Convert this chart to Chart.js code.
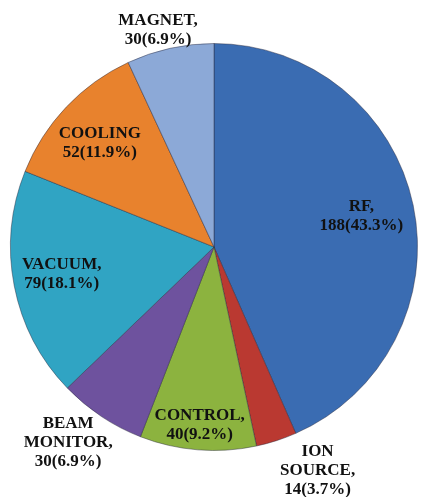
<!DOCTYPE html>
<html>
<head>
<meta charset="utf-8">
<script src="https://cdn.jsdelivr.net/npm/chart.js@4/dist/chart.umd.min.js"></script>
<style>
  html, body { margin: 0; padding: 0; background: #ffffff; }
  #wrap { width: 421px; height: 497px; }
</style>
</head>
<body>
<div id="wrap"><canvas id="pie" width="421" height="497"></canvas></div>
<script>
// data, clockwise from 12 o'clock
const categories = [["RF,"], ["ION", "SOURCE,"], ["CONTROL,"], ["BEAM", "MONITOR,"], ["VACUUM,"], ["COOLING"], ["MAGNET,"]];
const counts = [188, 14, 40, 30, 79, 52, 30];
const percents = ["43.3%", "3.7%", "9.2%", "6.9%", "18.1%", "11.9%", "6.9%"];

const sliceColors = ["#3A6CB2", "#BA3931", "#8CB33F", "#6E529E", "#30A4C3", "#E8822D", "#8CA9D7"];

// label placement: fraction of radius, and small angle nudge (degrees)
const labelRadius = [0.74, 1.21, 0.88, 1.2, 0.76, 0.76, 1.1];
const labelNudge = [0, -7, 0, 3, 1, -1, -2];
const labelFont = 'bold 17px "Liberation Serif"';

function mix(hex, target, amt) {
    var n = parseInt(hex.slice(1), 16);
    var r = (n >> 16) & 255, g = (n >> 8) & 255, b = n & 255;
    r = Math.round(r + (target - r) * amt);
    g = Math.round(g + (target - g) * amt);
    b = Math.round(b + (target - b) * amt);
    return "rgb(" + r + "," + g + "," + b + ")";
}

function sliceFill(context) {
    var chart = context.chart;
    var base = sliceColors[context.dataIndex];
    if (!chart.chartArea) return base;
    var arc = chart.getDatasetMeta(0).data[context.dataIndex];
    if (!arc || !arc.outerRadius) return base;
    var g = chart.ctx.createRadialGradient(arc.x, arc.y, 0, arc.x, arc.y, arc.outerRadius);
    g.addColorStop(0, mix(base, 0, 0.14));
    g.addColorStop(0.88, base);
    g.addColorStop(0.965, mix(base, 255, 0.12));
    g.addColorStop(1, mix(base, 0, 0.15));
    return g;
}

const sliceLabels = {
    id: "sliceLabels",
    afterDatasetsDraw(chart) {
        var ctx = chart.ctx;
        var meta = chart.getDatasetMeta(0);
        ctx.save();
        ctx.font = labelFont;
        ctx.fillStyle = "#111111";
        ctx.textAlign = "center";
        ctx.textBaseline = "middle";
        meta.data.forEach(function (arc, i) {
            var mid = (arc.startAngle + arc.endAngle) / 2 + labelNudge[i] * Math.PI / 180;
            var r = arc.outerRadius * labelRadius[i];
            var cx = arc.x + Math.cos(mid) * r;
            var cy = arc.y + Math.sin(mid) * r;
            var lines = categories[i].concat([counts[i] + "(" + percents[i] + ")"]);
            var lh = 19;
            var y0 = cy - (lines.length - 1) * lh / 2;
            lines.forEach(function (t, k) {
                ctx.fillText(t, cx, y0 + k * lh);
            });
        });
        ctx.restore();
    }
};

function draw() {
    return new Chart(document.getElementById("pie"), {
        type: "pie",
        data: {
            labels: categories.map(function (c) { return c.join(" "); }),
            datasets: [{
                data: counts,
                backgroundColor: sliceFill,
                borderColor: "rgba(40,40,60,0.45)",
                borderWidth: 1,
            }]
        },
        options: {
            responsive: false,
            animation: false,
            layout: {
                padding: { top: 43, bottom: 46, left: 10, right: 3 }
            },
            plugins: {
                legend: { display: false },
                tooltip: { enabled: false },
            },
        },
        plugins: [sliceLabels]
    });
}

document.fonts.load(labelFont).then(draw, draw);
</script>
</body>
</html>
